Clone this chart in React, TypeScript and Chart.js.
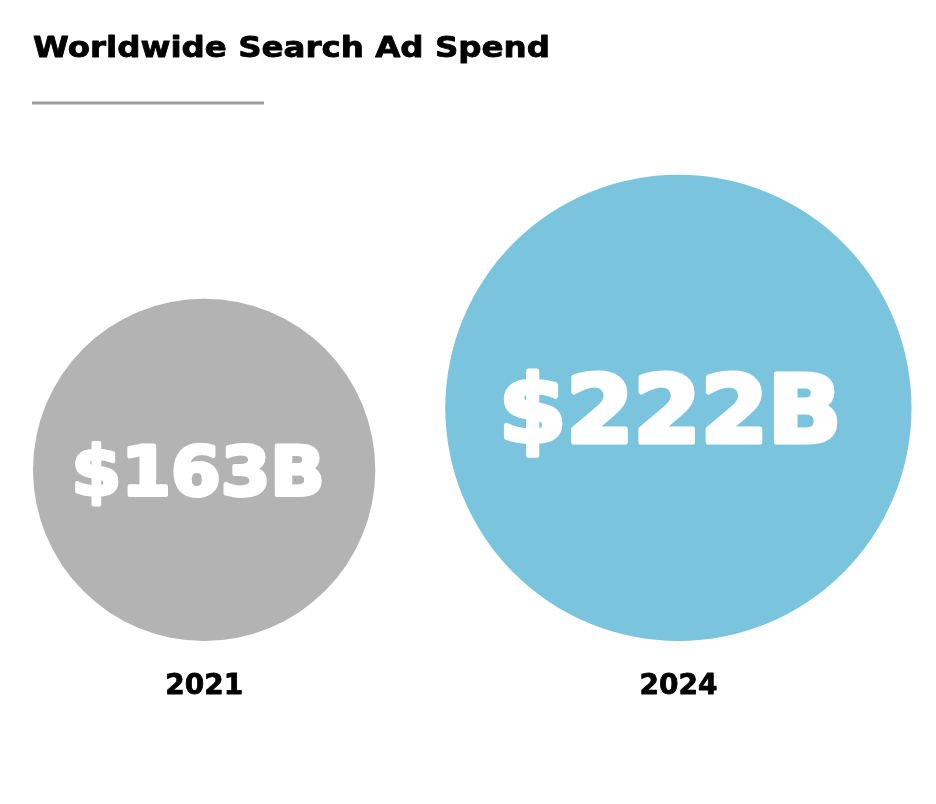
import React, { useEffect, useRef } from "react";
import { Chart, registerables } from "chart.js";

Chart.register(...registerables);

// ---- data ----
const TITLE = "Worldwide Search Ad Spend";
const YEARS = ["2021", "2024"];
const SPEND_BILLIONS = [163, 222];
const VALUE_LABELS = ["$163B", "$222B"];
const BUBBLE_COLORS = ["#b3b3b3", "#7bc4de"];

// ---- styling constants ----
const W = 936;
const H = 804;
const PX_PER_BILLION = 1.05; // bubble radius in px per $1B
const GAP = 70; // px between bubbles
const LEFT = 33;
const BASELINE = 641; // bottom of bubbles
const FONT = "'DejaVu Sans', sans-serif";
const TITLE_WIDTH = 517;

const radii = SPEND_BILLIONS.map((v) => v * PX_PER_BILLION);
const xs: number[] = [];
{
  let acc = 0;
  radii.forEach((r) => {
    xs.push(acc + r);
    acc += 2 * r + GAP;
  });
}
const points = SPEND_BILLIONS.map((v, i) => ({ x: xs[i], y: radii[i], r: radii[i] }));

function heavyText(
  ctx: CanvasRenderingContext2D,
  text: string,
  x: number,
  y: number,
  color: string,
  stroke: number,
  stretch = 1
) {
  ctx.save();
  ctx.translate(x, y);
  ctx.scale(stretch, 1);
  ctx.fillStyle = color;
  ctx.strokeStyle = color;
  ctx.lineJoin = "round";
  ctx.lineWidth = stroke;
  if (stroke > 0) ctx.strokeText(text, 0, 0);
  ctx.fillText(text, 0, 0);
  ctx.restore();
}

const labelPlugin = {
  id: "labels",
  afterDatasetsDraw(chart: any) {
    const ctx = chart.ctx as CanvasRenderingContext2D;
    ctx.save();
    ctx.textBaseline = "alphabetic";
    // title
    ctx.textAlign = "left";
    ctx.font = `bold 28px ${FONT}`;
    const tw = ctx.measureText(TITLE).width;
    heavyText(ctx, TITLE, LEFT, 57, "#000", 0.8, TITLE_WIDTH / tw);
    // underline
    ctx.strokeStyle = "#9d9d9d";
    ctx.lineWidth = 3;
    ctx.beginPath();
    ctx.moveTo(LEFT - 1, 103);
    ctx.lineTo(264, 103);
    ctx.stroke();

    const meta = chart.getDatasetMeta(0);
    meta.data.forEach((el: any, i: number) => {
      const r = radii[i];
      const cx = el.x;
      const cy = el.y;
      // value
      ctx.textAlign = "center";
      ctx.font = `bold ${Math.round(r * 0.395)}px ${FONT}`;
      heavyText(ctx, VALUE_LABELS[i], cx - r * 0.035, cy + r * 0.148, "#ffffff", r * 0.022, 1.05);
      // year
      ctx.font = `bold 28px ${FONT}`;
      heavyText(ctx, YEARS[i], cx, 694, "#000", 0.8);
    });
    ctx.restore();
  },
};

export default function App() {
  const ref = useRef<HTMLCanvasElement>(null);
  useEffect(() => {
    if (!ref.current) return;
    const chart = new Chart(ref.current, {
      type: "bubble",
      data: {
        datasets: [
          {
            data: points,
            backgroundColor: BUBBLE_COLORS,
            borderWidth: 0,
            hoverBorderWidth: 0,
            clip: false as any,
          },
        ],
      },
      options: {
        responsive: false,
        animation: false,
        events: [],
        layout: {
          autoPadding: false,
          padding: { left: LEFT, top: 0, right: 0, bottom: H - BASELINE },
        },
        scales: {
          x: { type: "linear", display: false, min: 0, max: W - LEFT },
          y: { type: "linear", display: false, min: 0, max: BASELINE },
        },
        plugins: {
          legend: { display: false },
          tooltip: { enabled: false },
          title: { display: false },
        },
      },
      plugins: [labelPlugin],
    });
    return () => chart.destroy();
  }, []);
  return (
    <div style={{ position: "fixed", left: 0, top: 0, width: W, height: H, background: "#fff" }}>
      <canvas ref={ref} width={W} height={H} style={{ width: W, height: H, display: "block" }} />
    </div>
  );
}
